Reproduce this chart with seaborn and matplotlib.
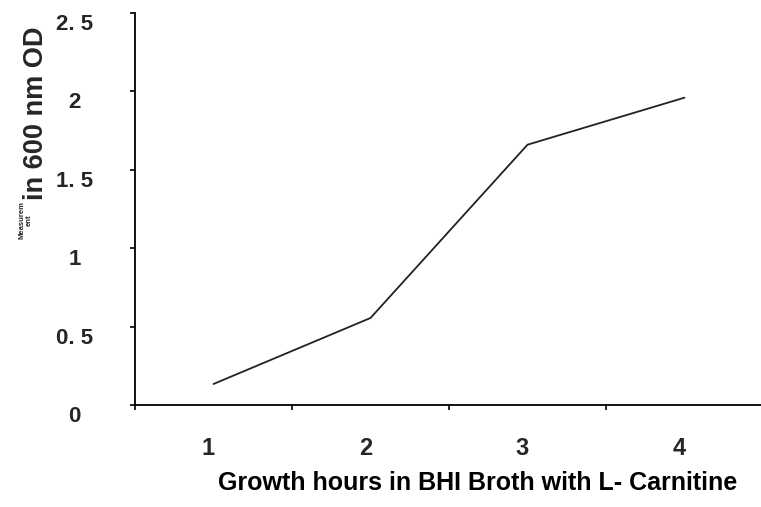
import matplotlib
matplotlib.use("Agg")
import matplotlib.pyplot as plt
import matplotlib.transforms as mtransforms
import pandas as pd
import seaborn as sns

# values
hours = [1, 2, 3, 4]
od600 = [0.134, 0.555, 1.66, 1.96]
y_ticks = [0, 0.5, 1, 1.5, 2, 2.5]
y_tick_labels = ["0", "0. 5", "1", "1. 5", "2", "2. 5"]
x_tick_labels = ["1", "2", "3", "4"]

sns.set_theme(style="white")
plt.rcParams["font.family"] = ["Liberation Sans", "DejaVu Sans"]
plt.rcParams["font.weight"] = "bold"

df = pd.DataFrame({"hours": hours, "od": od600})

fig = plt.figure(figsize=(7.61, 5.07), dpi=100)
ax = fig.add_axes([135 / 761, 102 / 507, 628 / 761, 392 / 507])

sns.lineplot(data=df, x="hours", y="od", ax=ax, color="#222222",
             linewidth=1.3, legend=False)

ax.set_xlim(0.5, 4.5)
ax.set_ylim(0, 2.5)

for side in ["top", "right"]:
    ax.spines[side].set_visible(False)
for side in ["left", "bottom"]:
    ax.spines[side].set_color("black")
    ax.spines[side].set_linewidth(1.3)

# category boundaries carry the tick marks, labels sit at category centres
ax.set_xticks([0.5, 1.5, 2.5, 3.5, 4.5])
ax.set_xticklabels([])
ax.set_xticks(hours, minor=True)
ax.set_xticklabels(x_tick_labels, minor=True, fontsize=17, fontweight="bold")
ax.tick_params(axis="x", which="major", direction="out", length=3.5,
               width=1.2, color="black", bottom=True)
ax.tick_params(axis="x", which="minor", length=0, pad=23, bottom=True)
shift_x = mtransforms.ScaledTranslation(-5 / 100, 0, fig.dpi_scale_trans)
for lab in ax.get_xticklabels(minor=True):
    lab.set_transform(lab.get_transform() + shift_x)

ax.set_yticks(y_ticks)
ax.set_yticklabels(y_tick_labels, fontsize=16, fontweight="bold")
ax.tick_params(axis="y", direction="out", length=3.5, width=1.2,
               color="black", pad=40, left=True)
shift_y = mtransforms.ScaledTranslation(0, -9 / 100, fig.dpi_scale_trans)
for lab in ax.get_yticklabels():
    lab.set_horizontalalignment("center")
    lab.set_transform(lab.get_transform() + shift_y)

ax.set_ylabel("")
ax.set_xlabel("Growth hours in BHI Broth with L- Carnitine",
              fontsize=18, fontweight="bold", color="black")
ax.xaxis.set_label_coords((478 - 135) / 628, (405 - 483) / 392)
ax.xaxis.label.set_verticalalignment("center")

# y axis title is two pieces: a tiny "Measurem/ent" and the large part
fig.text(36 / 761, (507 - 200) / 507, "in 600 nm OD", rotation=90,
         ha="center", va="bottom", fontsize=19.5, fontweight="bold")
fig.text(26 / 761, (507 - 201) / 507, "Measurem\nent", rotation=90,
         ha="center", va="top", fontsize=5.5, fontweight="bold",
         multialignment="center", linespacing=1.0)

ax.grid(False)
fig.savefig("out.png", dpi=100)
